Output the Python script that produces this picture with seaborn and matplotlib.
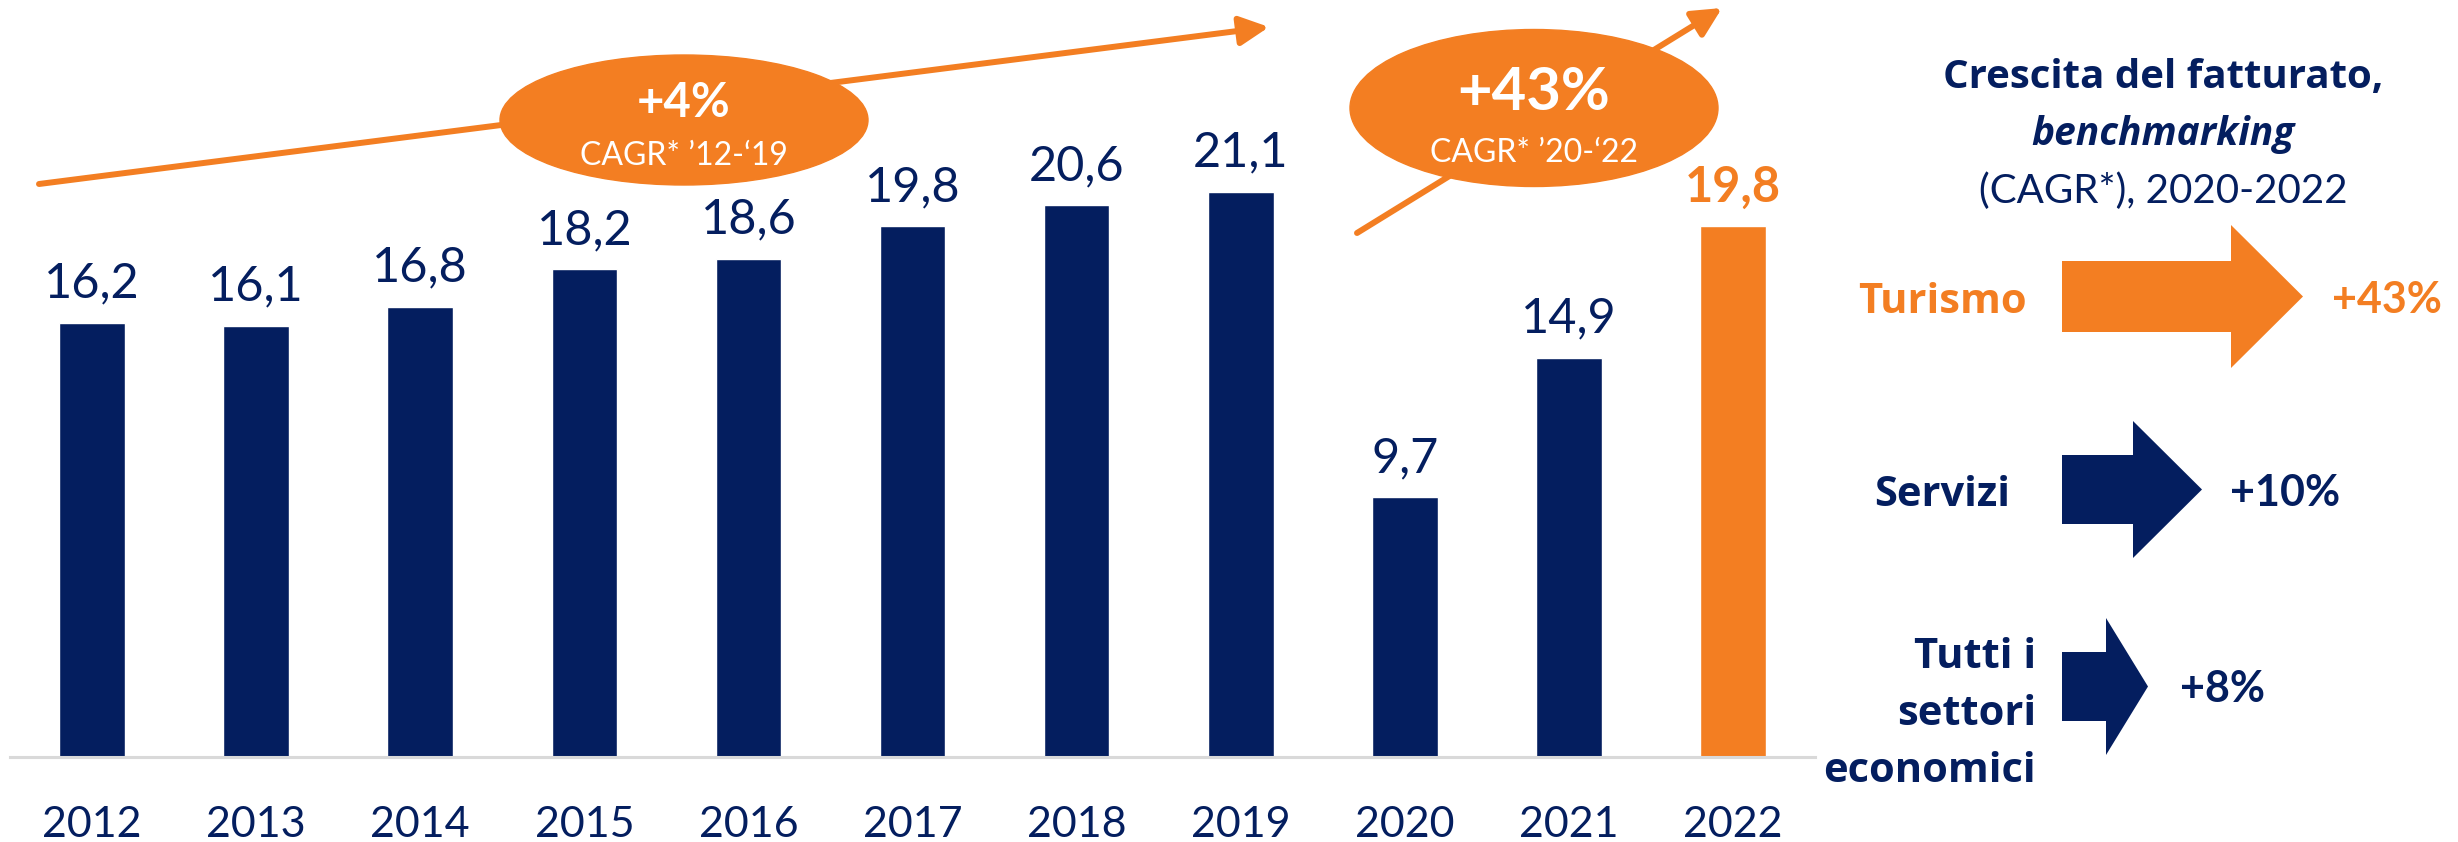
import matplotlib
matplotlib.use("Agg")
import matplotlib.pyplot as plt
from matplotlib.patches import Ellipse, Polygon, FancyArrowPatch
import seaborn as sns
import pandas as pd

NAVY = "#041E5F"
ORANGE = "#F37E22"
GREY = "#D9D9D9"

# dati del grafico
anni = ["2012", "2013", "2014", "2015", "2016", "2017",
        "2018", "2019", "2020", "2021", "2022"]
fatturato = [16.2, 16.1, 16.8, 18.2, 18.6, 19.8, 20.6, 21.1, 9.7, 14.9, 19.8]
colori = [NAVY] * 10 + [ORANGE]

cagr_testi = ["+4%", "+43%"]
cagr_sotto = ["CAGR* \u201912-\u201819", "CAGR* \u201920-\u201822"]

settori = ["Turismo", "Servizi", "Tutti i\nsettori\neconomici"]
crescita = ["+43%", "+10%", "+8%"]
colori_settori = [ORANGE, NAVY, NAVY]

W, H = 2458, 842
BOLD_FAM = ['Open Sans', 'DejaVu Sans']

sns.set_style("white")
plt.rcParams['font.family'] = ['Lato', 'DejaVu Sans']

fig = plt.figure(figsize=(W / 100, H / 100), dpi=100)
# asse principale in pixel: x 10..1815, base a y=757
ax = fig.add_axes([10 / W, (H - 757) / H, 1805 / W, 757 / H])

df = pd.DataFrame({"anno": anni, "valore": fatturato})
sns.barplot(data=df, x="anno", y="valore", hue="anno", palette=colori,
            width=0.4, saturation=1, legend=False, ax=ax)

ymax = 757 / 26.8
ax.set_ylim(0, ymax)
ax.set_xlim(-0.5, len(anni) - 0.5)
off = 25 * ymax / 757
for i, v in enumerate(fatturato):
    last = i == len(fatturato) - 1
    ax.text(i, v + off, "{:.1f}".format(v).replace(".", ","),
            ha="center", va="baseline", fontsize=35,
            color=ORANGE if last else NAVY,
            fontweight="bold" if last else "normal")

ax.set_xlabel("")
ax.set_ylabel("")
ax.set_yticks([])
ax.tick_params(axis="x", length=0, pad=35, labelsize=31, labelcolor=NAVY)
for s in ["top", "right", "left"]:
    ax.spines[s].set_visible(False)
ax.spines["bottom"].set_color(GREY)
ax.spines["bottom"].set_linewidth(2.2)

# sovrapposizione in coordinate pixel
ov = fig.add_axes([0, 0, 1, 1], zorder=5)
ov.set_xlim(0, W)
ov.set_ylim(H, 0)
ov.axis("off")

frecce = [((39, 184), (1269, 27)), ((1357, 233), (1722, 8))]
for a, b in frecce:
    ov.add_patch(FancyArrowPatch(a, b, arrowstyle="-|>,head_length=0.8,head_width=0.4",
                                 mutation_scale=22, lw=4.3, color=ORANGE,
                                 shrinkA=0, shrinkB=0))

ellissi = [(684, 120, 368, 130), (1534, 108, 368, 157)]
big_fs = [34, 43]
big_y = [117, 110]
small_y = [165, 162]
for k, (cx, cy, ew, eh) in enumerate(ellissi):
    ov.add_patch(Ellipse((cx, cy), ew, eh, color=ORANGE, zorder=3))
    ov.text(cx, big_y[k], cagr_testi[k], ha="center", va="baseline",
            fontsize=big_fs[k], fontweight="bold", color="white", zorder=4)
    ov.text(cx, small_y[k], cagr_sotto[k], ha="center", va="baseline",
            fontsize=23, color="white", zorder=4)

# titolo pannello destro
tx = 2163
ov.text(tx, 88, "Crescita del fatturato,", ha="center", va="baseline",
        fontsize=29, fontweight="bold", color=NAVY, family=BOLD_FAM)
ov.text(tx, 145, "benchmarking", ha="center", va="baseline",
        fontsize=28, fontweight="bold", fontstyle="italic", color=NAVY,
        family=BOLD_FAM)
ov.text(tx, 203, "(CAGR*), 2020-2022", ha="center", va="baseline",
        fontsize=29, color=NAVY)

# frecce a blocco: (x0, x1 corpo, y0, y1 corpo, y0, y1 punta, x punta, x valore, y valore)
layout = [(2062, 2231, 261, 332, 225, 368, 2303, 2332, 313),
          (2062, 2133, 455, 524, 421, 558, 2202, 2230, 506),
          (2062, 2106, 652, 721, 618, 755, 2148, 2180, 702)]
for k, (x0, x1, y0, y1, h0, h1, xt, vx, vy) in enumerate(layout):
    col = colori_settori[k]
    ym = (h0 + h1) / 2
    pts = [(x0, y0), (x1, y0), (x1, h0), (xt, ym), (x1, h1), (x1, y1), (x0, y1)]
    ov.add_patch(Polygon(pts, closed=True, color=col, lw=0))
    ov.text(vx, vy, crescita[k], ha="left", va="baseline",
            fontsize=31, fontweight="bold", color=col)

ov.text(1942, 313, settori[0], ha="center", va="baseline",
        fontsize=30, fontweight="bold", color=colori_settori[0], family=BOLD_FAM)
ov.text(1942, 506, settori[1], ha="center", va="baseline",
        fontsize=30, fontweight="bold", color=colori_settori[1], family=BOLD_FAM)
for j, riga in enumerate(settori[2].split("\n")):
    ov.text(2036, 668 + 57 * j, riga, ha="right", va="baseline",
            fontsize=30, fontweight="bold", color=colori_settori[2],
            family=BOLD_FAM)

fig.savefig("out.png", dpi=100)
